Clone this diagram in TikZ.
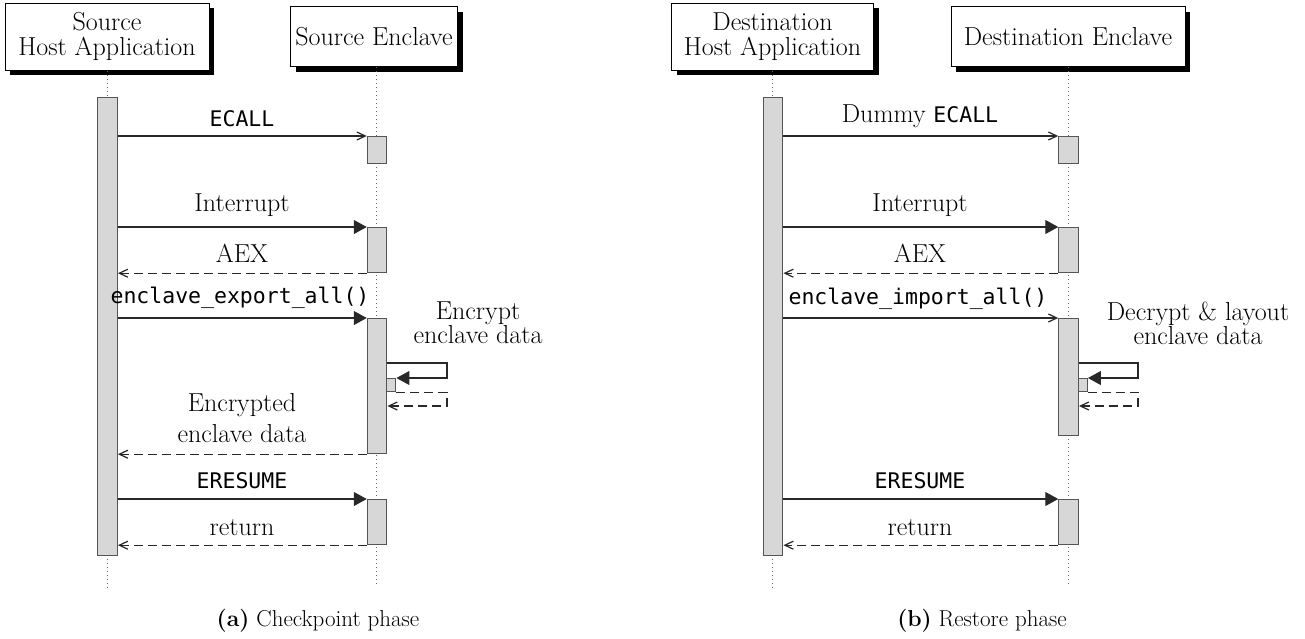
\documentclass[tikz,border=0pt]{standalone}
\usepackage{fontspec}
\newfontfamily\monofont{DejaVu Sans Mono}
\usetikzlibrary{arrows.meta,shadows}
\definecolor{actfill}{RGB}{215,215,215}
\definecolor{actline}{RGB}{85,85,85}
\definecolor{msgline}{RGB}{40,40,40}
\newcommand\codetxt[1]{{\monofont\fontsize{21.5}{24}\selectfont #1}}
\tikzset{
 inst/.style={draw=black, line width=1pt, fill=white, align=center, inner sep=3pt,
   font=\fontsize{26}{25}\selectfont,
   drop shadow={shadow xshift=5pt,shadow yshift=-5pt,opacity=1,fill=black}},
 act/.style={draw=actline, fill=actfill, line width=1.2pt, minimum width=19.5pt, inner sep=0pt, anchor=north west},
 life/.style={draw=gray!80!black, line width=0.8pt, dash pattern=on 1pt off 3pt},
 call/.style={draw=msgline, line width=1.2pt, -{Straight Barb[length=8.5pt,width=8pt]}},
 callf/.style={draw=msgline, line width=1.2pt, -{Triangle[length=13pt,width=14pt]}},
 ret/.style={draw=msgline, line width=1.2pt, dash pattern=on 9pt off 5pt, -{Straight Barb[length=8.5pt,width=8pt]}},
 lbl/.style={anchor=base, inner sep=0pt, font=\fontsize{26}{26}\selectfont},
 mlbl/.style={anchor=base, inner sep=0pt, font=\monofont\fontsize{21.5}{24}\selectfont},
 captxt/.style={anchor=base, inner sep=0pt, font=\fontsize{23}{26}\selectfont},
}
\begin{document}
\begin{tikzpicture}[x=1pt,y=-1pt]
\useasboundingbox (0,0) rectangle (1305,638);
% ===== (a) Checkpoint phase =====
\node[inst, minimum width=204pt, minimum height=67pt] (srcHost) at (107,36.5) {Source\\Host Application};
\node[inst, minimum width=167pt, minimum height=60pt] (srcEnc) at (374,36.5) {Source Enclave};
\coordinate (srcHostEnd) at (107,588);
\coordinate (srcEncEnd) at (376.5,585);
\draw[life] (srcHost.south) -- (srcHostEnd);
\draw[life] (srcEnc.south -| srcEncEnd) -- (srcEncEnd);
\node[act, minimum height=458pt] (hA) at (97.25,97) {};
\node[act, minimum height=27pt] (eA1) at (366.75,136) {};
\node[act, minimum height=45pt] (eA2) at (366.75,227) {};
\node[act, minimum height=135pt] (eA3) at (366.75,318) {};
\node[act, minimum width=9pt, minimum height=13pt] (subA) at (386.25,378) {};
\node[act, minimum height=45pt] (eA4) at (366.75,499) {};
\coordinate (sA1) at (447,363);
\coordinate (sA2) at (447,406);
\draw[call] (hA.east |- eA1.north west) -- (eA1.north west);
\draw[callf] (hA.east |- eA2.north west) -- (eA2.north west);
\draw[ret] (eA2.south west) -- (hA.east |- eA2.south west);
\draw[callf] (hA.east |- eA3.north west) -- (eA3.north west);
\draw[callf] (eA3.east |- sA1) -- (sA1) |- (subA.north east);
\draw[ret] (subA.south east) -| (sA2) -- (eA3.east |- sA2);
\draw[ret] (eA3.south west) -- (hA.east |- eA3.south west);
\draw[callf] (hA.east |- eA4.north west) -- (eA4.north west);
\draw[ret] (eA4.south west) -- (hA.east |- eA4.south west);
\node[mlbl] (lA1) at (242,126.5) {ECALL};
\node[lbl] (lA2) at (242,211) {Interrupt};
\node[lbl] (lA3) at (242,262) {AEX};
\node[mlbl] (lA4) at (240,303) {enclave\_export\_all()};
\node[lbl] (lA5a) at (478,319) {Encrypt};
\node[lbl] (lA5b) at (478,343) {enclave data};
\node[lbl] (lA6a) at (242,411) {Encrypted};
\node[lbl] (lA6b) at (242,442) {enclave data};
\node[mlbl] (lA7) at (242,488) {ERESUME};
\node[lbl] (lA8) at (242,535) {return};
\node[captxt] (capA) at (318,626) {\textbf{(a)} Checkpoint phase};
% ===== (b) Restore phase =====
\node[inst, minimum width=202pt, minimum height=67pt] (dstHost) at (772.5,36.5) {Destination\\Host Application};
\node[inst, minimum width=234pt, minimum height=60pt] (dstEnc) at (1068,36.5) {Destination Enclave};
\coordinate (dstHostEnd) at (772.5,588);
\coordinate (dstEncEnd) at (1068,585);
\draw[life] (dstHost.south) -- (dstHostEnd);
\draw[life] (dstEnc.south) -- (dstEncEnd);
\node[act, minimum height=458pt] (hB) at (762.75,97) {};
\node[act, minimum height=27pt] (eB1) at (1058.25,136) {};
\node[act, minimum height=45pt] (eB2) at (1058.25,227) {};
\node[act, minimum height=117pt] (eB3) at (1058.25,318) {};
\node[act, minimum width=9pt, minimum height=13pt] (subB) at (1077.75,378) {};
\node[act, minimum height=45pt] (eB4) at (1058.25,499) {};
\coordinate (sB1) at (1138,363);
\coordinate (sB2) at (1138,406);
\draw[call] (hB.east |- eB1.north west) -- (eB1.north west);
\draw[callf] (hB.east |- eB2.north west) -- (eB2.north west);
\draw[ret] (eB2.south west) -- (hB.east |- eB2.south west);
\draw[call] (hB.east |- eB3.north west) -- (eB3.north west);
\draw[callf] (eB3.east |- sB1) -- (sB1) |- (subB.north east);
\draw[ret] (subB.south east) -| (sB2) -- (eB3.east |- sB2);
\draw[callf] (hB.east |- eB4.north west) -- (eB4.north west);
\draw[ret] (eB4.south west) -- (hB.east |- eB4.south west);
\node[lbl] (lB1) at (920,122) {Dummy \codetxt{ECALL}};
\node[lbl] (lB2) at (920,211) {Interrupt};
\node[lbl] (lB3) at (920,262) {AEX};
\node[mlbl] (lB4) at (918,304) {enclave\_import\_all()};
\node[lbl] (lB5a) at (1198,320) {Decrypt \& layout};
\node[lbl] (lB5b) at (1198,344) {enclave data};
\node[mlbl] (lB7) at (920,488) {ERESUME};
\node[lbl] (lB8) at (920,535) {return};
\node[captxt] (capB) at (982,626) {\textbf{(b)} Restore phase};
\end{tikzpicture}
\end{document}
